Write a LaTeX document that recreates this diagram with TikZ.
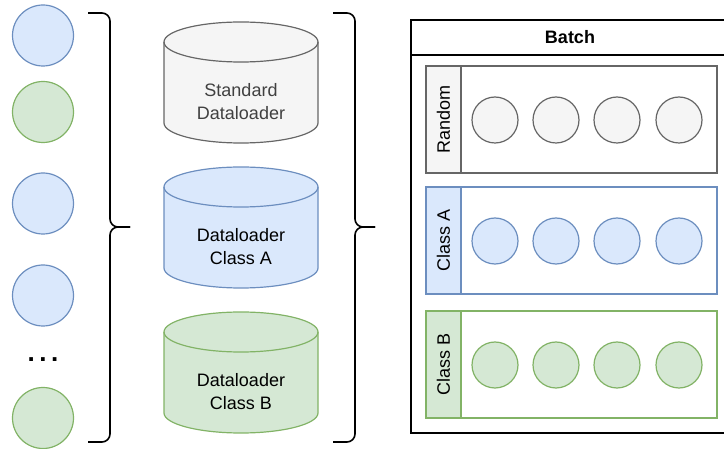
\documentclass[tikz,border=0pt]{standalone}
\usepackage{fontspec}
\setmainfont{Liberation Sans}
\definecolor{bfill}{HTML}{DAE8FC}
\definecolor{bline}{HTML}{6C8EBF}
\definecolor{gfill}{HTML}{D5E8D4}
\definecolor{gline}{HTML}{82B366}
\definecolor{kfill}{HTML}{F5F5F5}
\definecolor{kline}{HTML}{666666}
\tikzset{
  bigball/.style={circle, minimum size=61pt, inner sep=0pt, line width=1.2pt},
  smallball/.style={circle, minimum size=46pt, inner sep=0pt, line width=1.2pt},
  sblue/.style={fill=bfill, draw=bline},
  sgreen/.style={fill=gfill, draw=gline},
  sgray/.style={fill=kfill, draw=kline},
  bracepath/.style={line width=1.6pt, rounded corners=8pt},
  lbl/.style={font=\fontsize{18}{23}\selectfont, align=center, inner sep=0pt},
  shapeline/.style={line width=1.2pt}
}
\newcommand\dbcyl[5]{%
  \filldraw[fill=#2, draw=#3, shapeline] (164,#1+20) -- (164,#1+101)
    arc[start angle=180, end angle=0, x radius=77pt, y radius=20pt] -- (318,#1+20)
    arc[start angle=0, end angle=-180, x radius=77pt, y radius=20pt] -- cycle;
  \draw[draw=#3, shapeline] (164,#1+20) arc[start angle=180, end angle=0, x radius=77pt, y radius=20pt];
  \node[lbl] (#4) at (241,#1+79.5) {#5};
}
\newcommand\batchlane[6]{%
  \draw[draw=#3, fill=white, shapeline] (426,#1) rectangle (717,#1+107);
  \draw[draw=#3, fill=#2, shapeline] (426,#1) rectangle (461,#1+107);
  \node[lbl, rotate=90] (#5) at (443.5,#1+53.5) {#4};
  \node[smallball, #6] (#5c1) at (495,#1+54) {};
  \node[smallball, #6] (#5c2) at (556,#1+54) {};
  \node[smallball, #6] (#5c3) at (617,#1+54) {};
  \node[smallball, #6] (#5c4) at (679,#1+54) {};
}
\begin{document}
\begin{tikzpicture}[x=1pt, y=1pt, yscale=-1]
\useasboundingbox (0,0) rectangle (724,449);
% left samples
\node[bigball, sblue]  (l1) at (43,35.5) {};
\node[bigball, sgreen] (l2) at (43,112) {};
\node[bigball, sblue]  (l3) at (43,203.5) {};
\node[bigball, sblue]  (l4) at (43,295.5) {};
\node[inner sep=0pt, anchor=base, font=\fontsize{26}{26}\selectfont\bfseries] (dots) at (43,362) {.\hspace{4.5pt}.\hspace{4.5pt}.};
\node[bigball, sgreen] (l5) at (43,418) {};
% left brace
\draw[bracepath] (88,13) -| (110,227) -- (130,227);
\draw[bracepath] (88,442) -| (110,227) -- (130,227);
% cylinders
\dbcyl{22}{kfill}{kline}{std}{\color{black!75}Standard\\\color{black!75}Dataloader}
\dbcyl{167}{bfill}{bline}{dla}{Dataloader\\Class A}
\dbcyl{312}{gfill}{gline}{dlb}{Dataloader\\Class B}
% right brace
\draw[bracepath] (333,13) -| (355,227) -- (375,227);
\draw[bracepath] (333,442) -| (355,227) -- (375,227);
% batch
\draw[line width=1.6pt] (726,20) -| (411,433) -- (726,433);
\draw[line width=1.6pt] (411,55) -- (726,55);
\node[lbl, font=\fontsize{18}{23}\selectfont\bfseries] (batch) at (570,37) {Batch};
\batchlane{66}{kfill}{kline}{Random}{rnd}{sgray}
\batchlane{187}{bfill}{bline}{Class A}{cla}{sblue}
\batchlane{311}{gfill}{gline}{Class B}{clb}{sgreen}
\end{tikzpicture}
\end{document}
